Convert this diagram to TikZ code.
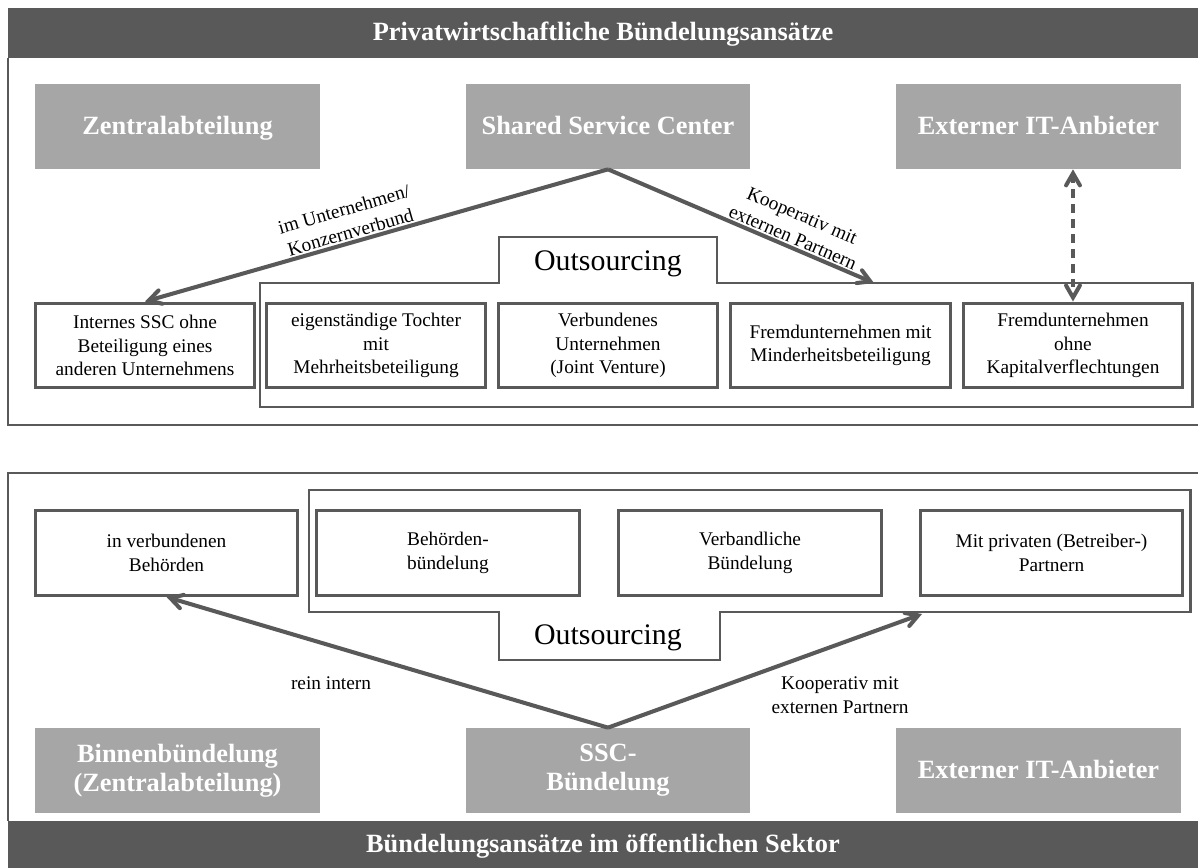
\documentclass[tikz,border=0pt]{standalone}
\usepackage{fontspec}
\setmainfont{Liberation Serif}
\usetikzlibrary{arrows}
\definecolor{dgray}{RGB}{89,89,89}
\definecolor{lgray}{RGB}{166,166,166}
\tikzset{
  oneline/.style={text height=0.95em, text depth=0.05em},
  bartitle/.style={text=white, font=\fontsize{15}{17}\selectfont\bfseries, oneline},
  graybox/.style={fill=lgray, text=white, font=\fontsize{15}{16.5}\selectfont\bfseries, minimum width=5.7cm, minimum height=1.7cm, align=center, inner sep=0},
  whitebox/.style={draw=dgray, line width=1.7pt, fill=white, minimum height=1.7cm, align=center, font=\fontsize{11}{13.5}\selectfont, inner sep=0},
  outframe/.style={draw=dgray, line width=1.7pt},
  link/.style={dgray, line width=2.3pt, ->, >=angle 60},
  lbl/.style={text=black, font=\fontsize{11}{13.5}\selectfont, align=center, inner sep=1pt}
}
\begin{document}
\begin{tikzpicture}[x=0.02cm, y=-0.02cm]
\useasboundingbox (0,0) rectangle (1198,868);
\fill[dgray] (8,8) rectangle (1198,58);
\node[bartitle] (titlea) at (603,33) {Privatwirtschaftliche Bündelungsansätze};
\draw[outframe] (8,58) -- (8,425) -- (1198,425);
\draw[outframe] (499,237) -- (717,237) -- (717,283) -- (1192,283) -- (1192,407) -- (260,407) -- (260,283) -- (499,283) -- cycle;
\node[font=\fontsize{17}{19}\selectfont] (outa) at (608,264) {Outsourcing};
\node[graybox, oneline] (zent) at (177.5,126.5) {Zentralabteilung};
\node[graybox, oneline] (ssc) at (608,126.5) {Shared Service Center};
\node[graybox, oneline] (ext) at (1038.5,126.5) {Externer IT-Anbieter};
\foreach \n/\x/\t in {intern/145/{Internes SSC ohne\\Beteiligung eines\\anderen Unternehmens},
  tochter/376/{eigenständige Tochter\\mit\\Mehrheitsbeteiligung},
  joint/608/{Verbundenes\\Unternehmen\\(Joint Venture)},
  fremda/840.5/{Fremdunternehmen mit\\Minderheitsbeteiligung},
  fremdb/1073/{Fremdunternehmen\\ohne\\Kapitalverflechtungen}}
  \node[whitebox, minimum width=4.4cm] (\n) at (\x,345.5) {\t};
\coordinate (outA) at (874,283);
\draw[link] (ssc.south) -- (intern.north) node[lbl, pos=0.55, sloped, above] (konz) {im Unternehmen/\\Konzernverbund};
\draw[link] (ssc.south) -- (outA) node[lbl, pos=0.68, sloped, above] (koopa) {Kooperativ mit\\externen Partnern};
\draw[link, <->, dash pattern=on 5pt off 3.5pt] (fremdb.north |- ext.south) -- (fremdb.north);

\draw[outframe] (1198,473) -- (8,473) -- (8,821);
\draw[outframe] (309,490) -- (1190,490) -- (1190,612) -- (720,612) -- (720,660) -- (499,660) -- (499,612) -- (309,612) -- cycle;
\node[font=\fontsize{17}{19}\selectfont] (outb) at (608,638) {Outsourcing};
\foreach \n/\x/\t in {verb/166.5/{in verbundenen\\Behörden},
  behoerde/448/{Behörden-\\bündelung},
  verband/750/{Verbandliche\\Bündelung},
  privat/1051.5/{Mit privaten (Betreiber-)\\Partnern}}
  \node[whitebox, minimum width=5.26cm] (\n) at (\x,553) {\t};
\node[graybox] (binnen) at (177.5,770.5) {Binnenbündelung\\(Zentralabteilung)};
\node[graybox] (sscb) at (608,770.5) {SSC-\\Bündelung};
\node[graybox, oneline] (extb) at (1038.5,770.5) {Externer IT-Anbieter};
\coordinate (outB) at (922,614);
\draw[link] (sscb.north) -- (verb.south);
\draw[link] (sscb.north) -- (outB);
\node[lbl] (rein) at (331,683) {rein intern};
\node[lbl] (koopb) at (840,695) {Kooperativ mit\\externen Partnern};
\fill[dgray] (8,821) rectangle (1198,868);
\node[bartitle] (titleb) at (603,845) {Bündelungsansätze im öffentlichen Sektor};
\end{tikzpicture}
\end{document}
